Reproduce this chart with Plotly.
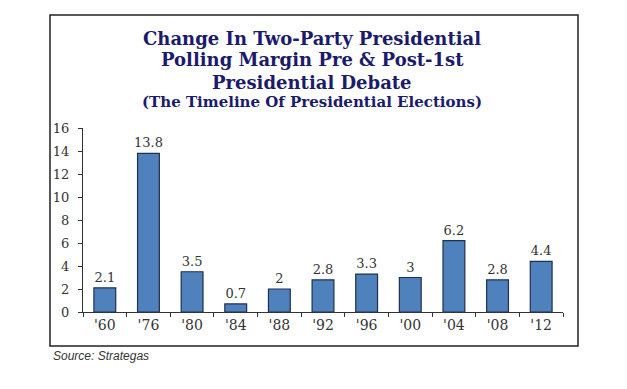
import plotly.graph_objects as go

categories = ["'60", "'76", "'80", "'84", "'88", "'92", "'96", "'00", "'04", "'08", "'12"]
values = [2.1, 13.8, 3.5, 0.7, 2, 2.8, 3.3, 3, 6.2, 2.8, 4.4]
labels = ["2.1", "13.8", "3.5", "0.7", "2", "2.8", "3.3", "3", "6.2", "2.8", "4.4"]
y_ticks = [0, 2, 4, 6, 8, 10, 12, 14, 16]

# page has an 8px body margin; compensate
OFF = 8
W, H = 627 - 2 * OFF, 389 - 2 * OFF
plot_x0, plot_x1, plot_y0, plot_y1 = 83 - OFF, 563 - OFF, 128 - OFF, 312 - OFF
L, R, T, B = plot_x0, W - plot_x1, plot_y0, H - plot_y1
pw, ph = plot_x1 - plot_x0, plot_y1 - plot_y0

def px(x):
    return (x - OFF - plot_x0) / pw

def py(y):
    return (plot_y1 - (y - OFF)) / ph

fig = go.Figure(go.Bar(
    x=categories, y=values, text=labels, textposition="outside",
    constraintext="none",
    textfont=dict(family="DejaVu Serif", size=13, color="#333333"),
    marker=dict(color="#4f81bd", line=dict(color="#1f2f4f", width=1.2)),
    width=0.5, cliponaxis=False,
))

title_color = "#1b1b6b"
titles = [
    ("<b>Change In Two-Party Presidential</b>", 38, 18),
    ("<b>Polling Margin Pre &amp; Post-1st</b>", 60, 18),
    ("<b>Presidential Debate</b>", 82, 18),
    ("<b>(The Timeline Of Presidential Elections)</b>", 102, 15),
]
annotations = []
for t, yy, s in titles:
    annotations.append(dict(text=t, x=px(312), y=py(yy), xref="paper", yref="paper",
                            showarrow=False, xanchor="center", yanchor="middle",
                            font=dict(family="DejaVu Serif", size=s, color=title_color)))
annotations.append(dict(text="<i>Source: Strategas</i>", x=px(51), y=py(356), xref="paper", yref="paper",
                        showarrow=False, xanchor="left", yanchor="middle",
                        font=dict(family="Liberation Sans", size=12, color="#333333")))

fig.update_layout(
    width=W, height=H,
    margin=dict(l=L, r=R, t=T, b=B),
    paper_bgcolor="white", plot_bgcolor="white",
    showlegend=False,
    annotations=annotations,
    shapes=[dict(type="rect", xref="paper", yref="paper",
                 x0=px(50), x1=px(578), y0=py(346), y1=py(15),
                 line=dict(color="#222222", width=1.5))],
    xaxis=dict(showline=True, linecolor="#333333", linewidth=1.2, ticks="outside",
               tickson="boundaries", ticklen=4, tickcolor="#333333",
               tickfont=dict(family="DejaVu Serif", size=14, color="#333333"),
               showgrid=False, zeroline=False),
    yaxis=dict(range=[0, 16], tickvals=y_ticks, showline=True, linecolor="#333333",
               linewidth=1.2, ticks="outside", ticklen=4, tickcolor="#333333",
               ticklabelstandoff=6,
               tickfont=dict(family="DejaVu Serif", size=13, color="#333333"),
               showgrid=False, zeroline=False),
)

fig.write_html("out.html")
